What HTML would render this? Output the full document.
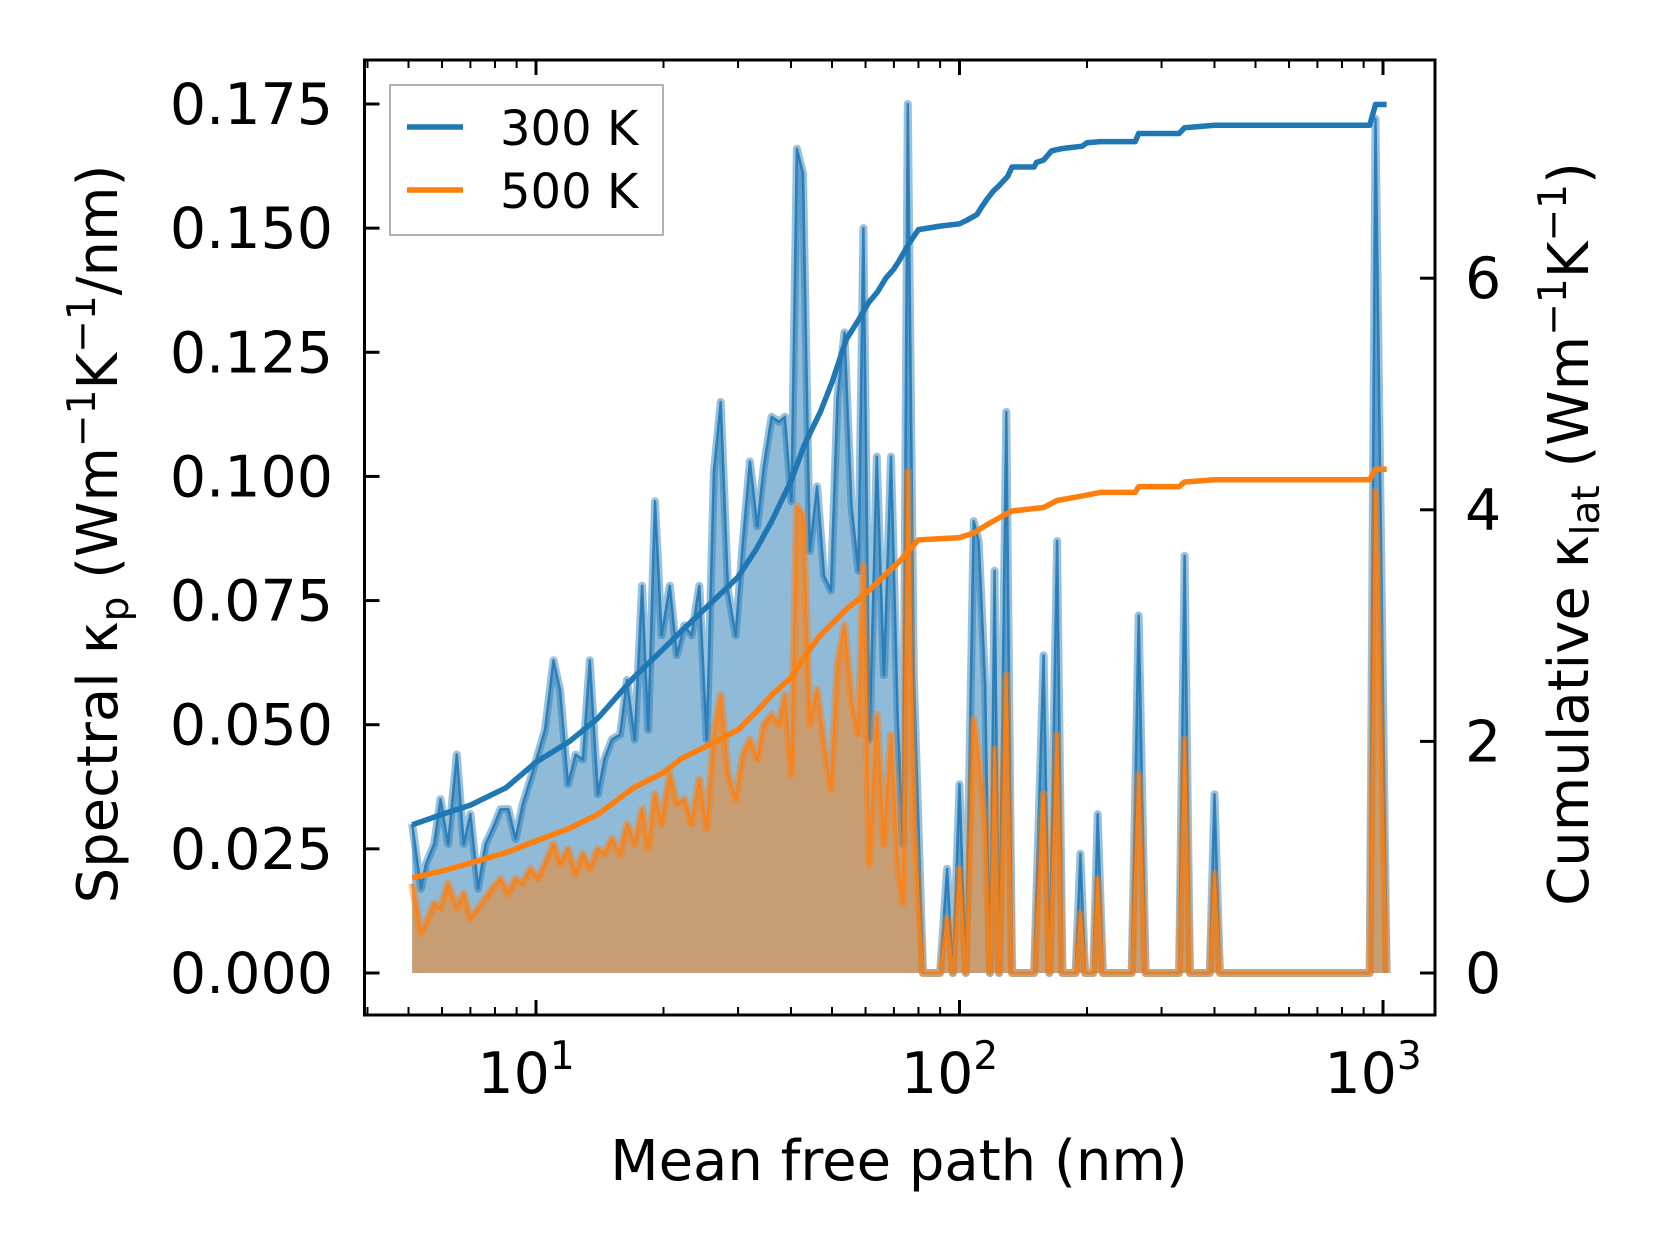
<!DOCTYPE html>
<html><head><meta charset="utf-8"><style>
html,body{margin:0;padding:0;background:#fff}
svg{display:block}
text{font-family:"DejaVu Sans","Liberation Sans",sans-serif;fill:#000}
</style></head><body>
<svg id="chart" width="1660" height="1254" viewBox="0 0 1660 1254" xmlns="http://www.w3.org/2000/svg">
<g id="plot"></g>
<g id="axes"></g>
</svg>
<script>
const mfp = [5.1,5.35,5.5,5.75,5.95,6.2,6.5,6.75,7.0,7.3,7.6,7.9,8.25,8.6,8.95,9.3,9.7,10.1,10.5,11.0,11.4,11.9,12.4,12.9,13.4,14.0,14.5,15.1,15.8,16.4,17.1,17.8,18.4,19.1,19.8,20.7,21.5,22.4,23.3,24.3,25.3,26.3,27.3,28.4,29.6,30.8,32.0,33.3,34.5,36.0,37.5,38.7,40.1,41.3,42.7,44.3,46.1,47.9,49.7,51.5,53.5,55.6,57.7,59.3,61.3,63.8,66.3,68.9,71.5,73.5,75.5,78,82,90,93.5,96.5,100,103.5,108,111,115,118,121,124,129,133,150,158,163,170,175,188,193,198,207,212,218,255,265,275,330,340,350,390,400,412,930,960,1020];
const spec300 = [.030,.017,.022,.026,.035,.026,.044,.026,.032,.017,.026,.029,.033,.033,.027,.034,.039,.044,.049,.063,.057,.038,.044,.043,.063,.036,.043,.047,.048,.059,.047,.078,.049,.095,.068,.078,.064,.070,.068,.078,.047,.101,.115,.077,.068,.087,.103,.090,.102,.112,.111,.112,.095,.166,.161,.085,.098,.080,.077,.116,.129,.094,.081,.150,.047,.104,.060,.104,.051,.026,.175,.060,0,0,.021,0,.038,0,.091,.087,.058,0,.081,0,.113,0,0,.064,0,.087,0,0,.024,0,0,.032,0,0,.072,0,0,.084,0,0,.036,0,0,.172,0];
const spec500 = [.018,.008,.010,.014,.013,.018,.013,.016,.011,.013,.015,.017,.019,.016,.019,.018,.021,.019,.022,.026,.022,.025,.020,.024,.021,.025,.024,.027,.024,.030,.026,.033,.025,.036,.030,.040,.034,.035,.030,.039,.029,.048,.056,.040,.035,.044,.047,.043,.050,.052,.050,.056,.040,.094,.092,.050,.057,.046,.037,.062,.070,.055,.048,.082,.022,.052,.026,.048,.022,.014,.101,.030,0,0,.011,0,.021,0,.051,.043,.030,0,.045,0,.060,0,0,.036,0,.048,0,0,.012,0,0,.019,0,0,.040,0,0,.047,0,0,.020,0,0,.097,0];
const cumX300 = [5.1,6,7,8.5,10,12,14,17,20,22,26,30,33,36,40,43,47,50,54,58,61,64,67,70,72,76,80,90,100,104,110,113,116,120,124,130,133,150,152,158,165,175,195,200,215,260,265,330,340,400,930,960,1020];
const cum300 = [1.28,1.37,1.45,1.6,1.82,2.0,2.2,2.55,2.8,2.95,3.2,3.42,3.65,3.9,4.25,4.56,4.85,5.1,5.47,5.65,5.79,5.88,6.0,6.08,6.15,6.3,6.42,6.45,6.47,6.5,6.55,6.62,6.68,6.75,6.8,6.88,6.96,6.96,7.0,7.02,7.1,7.12,7.14,7.17,7.18,7.18,7.25,7.25,7.3,7.32,7.32,7.5,7.5];
const cumX500 = [5.1,6,7,8.5,10,12,14,17,20,22,26,30,33,36,40,43,47,54,61,66,72,76,80,100,108,116,124,133,158,170,195,215,260,265,330,340,400,930,960,1020];
const cum500 = [0.82,0.88,0.95,1.04,1.14,1.25,1.37,1.6,1.73,1.85,1.98,2.1,2.25,2.4,2.55,2.73,2.92,3.14,3.3,3.42,3.55,3.65,3.74,3.76,3.8,3.87,3.93,3.99,4.02,4.08,4.12,4.15,4.15,4.2,4.2,4.24,4.26,4.26,4.35,4.35];
const leftTicks = [0,0.025,0.05,0.075,0.1,0.125,0.15,0.175];
const leftTickLabels = ["0.000","0.025","0.050","0.075","0.100","0.125","0.150","0.175"];
const rightTicks = [0,2,4,6];
const xMajor = [1,2,3];

const NS="http://www.w3.org/2000/svg";
const L=364.5,R=1435,T=60,B=1015;
function xs(m){return 536+(Math.log10(m)-1)*423.5;}
function yl(v){return 973-v*4965.7;}
function yr(c){return 973-c*115.8;}
function mk(tag,attrs,parent){const e=document.createElementNS(NS,tag);for(const k in attrs)e.setAttribute(k,attrs[k]);parent.appendChild(e);return e;}
const plot=document.getElementById('plot'),axes=document.getElementById('axes'),svg=document.getElementById('chart');

function fillPath(vals){let d='M'+xs(mfp[0])+','+yl(0);mfp.forEach((m,i)=>{d+=' L'+xs(m).toFixed(1)+','+yl(vals[i]).toFixed(1);});d+=' L'+xs(mfp[mfp.length-1])+','+yl(0)+' Z';return d;}
function linePath(xa,va,f){return xa.map((m,i)=>(i?'L':'M')+xs(m).toFixed(1)+','+f(va[i]).toFixed(1)).join(' ');}

const f3=mk('path',{d:fillPath(spec300),fill:'#1f77b4','fill-opacity':0.5},plot);


const l3a=mk('path',{d:linePath(mfp,spec300,yl),fill:'none',stroke:'#1f77b4','stroke-opacity':0.45,'stroke-width':8,'stroke-linejoin':'round'},plot);


const l3=mk('path',{d:linePath(mfp,spec300,yl),fill:'none',stroke:'#1f77b4','stroke-opacity':0.85,'stroke-width':2.5,'stroke-linejoin':'round'},plot);


const f5=mk('path',{d:fillPath(spec500),fill:'#ff7f0e','fill-opacity':0.5},plot);


const l5a=mk('path',{d:linePath(mfp,spec500,yl),fill:'none',stroke:'#ff7f0e','stroke-opacity':0.45,'stroke-width':8,'stroke-linejoin':'round'},plot);


const l5=mk('path',{d:linePath(mfp,spec500,yl),fill:'none',stroke:'#ff7f0e','stroke-opacity':0.85,'stroke-width':2.5,'stroke-linejoin':'round'},plot);


const c3=mk('path',{d:linePath(cumX300,cum300,yr),fill:'none',stroke:'#1f77b4','stroke-width':5.5,'stroke-linejoin':'round'},plot);


const c5=mk('path',{d:linePath(cumX500,cum500,yr),fill:'none',stroke:'#ff7f0e','stroke-width':5.5,'stroke-linejoin':'round'},plot);



const fr=mk('rect',{x:L,y:T,width:R-L,height:B-T,fill:'none',stroke:'#000','stroke-width':3},axes);


leftTicks.forEach((v,i)=>{const y=yl(v);
 const t=mk('line',{x1:L,x2:L+15,y1:y,y2:y,stroke:'#000','stroke-width':3},axes);
 
 
 const tx=mk('text',{x:333,y:y+20,'font-size':57,'text-anchor':'end'},axes);tx.textContent=leftTickLabels[i];
 
 
});
rightTicks.forEach(v=>{const y=yr(v);
 const t=mk('line',{x1:R-15,x2:R,y1:y,y2:y,stroke:'#000','stroke-width':3},axes);
 
 
 const tx=mk('text',{x:1465,y:y+20,'font-size':57},axes);tx.textContent=String(v);
 
 
});
for(let e=0;e<=3;e++){for(let k=1;k<=9;k++){const m=k*Math.pow(10,e);const x=xs(m);if(x<L+2||x>R-2)continue;
 const len=k===1?15:8;
 const tb=mk('line',{x1:x,x2:x,y1:B,y2:B-len,stroke:'#000','stroke-width':k===1?3:2},axes);
 
 
 const tt=mk('line',{x1:x,x2:x,y1:T,y2:T+len,stroke:'#000','stroke-width':k===1?3:2},axes);
 
 
}}
xMajor.forEach(p=>{const x=xs(Math.pow(10,p));
 const tx=mk('text',{x:x-10,y:1093,'font-size':57,'text-anchor':'middle'},axes);
 
 
 tx.appendChild(document.createTextNode('10'));
 const sp=mk('tspan',{dy:-24,'font-size':39},tx);sp.textContent=String(p);
});

const xt=mk('text',{x:899,y:1180,'font-size':56,'text-anchor':'middle'},svg);xt.textContent='Mean free path (nm)';


const yt=mk('text',{transform:'translate(117,534) rotate(-90)','font-size':56,'text-anchor':'middle'},svg);


yt.appendChild(document.createTextNode('Spectral κ'));
mk('tspan',{dy:11,'font-size':39},yt).textContent='p';
mk('tspan',{dy:-11},yt).textContent=' (Wm';
mk('tspan',{dy:-22,'font-size':39},yt).textContent='−1';
mk('tspan',{dy:22},yt).textContent='K';
mk('tspan',{dy:-22,'font-size':39},yt).textContent='−1';
mk('tspan',{dy:22},yt).textContent='/nm)';
const rt=mk('text',{transform:'translate(1588,534) rotate(-90)','font-size':56,'text-anchor':'middle'},svg);


rt.appendChild(document.createTextNode('Cumulative κ'));
mk('tspan',{dy:11,'font-size':39},rt).textContent='lat';
mk('tspan',{dy:-11},rt).textContent=' (Wm';
mk('tspan',{dy:-22,'font-size':39},rt).textContent='−1';
mk('tspan',{dy:22},rt).textContent='K';
mk('tspan',{dy:-22,'font-size':39},rt).textContent='−1';
mk('tspan',{dy:22},rt).textContent=')';

const lg=mk('g',{},svg);


mk('rect',{x:390,y:85,width:273,height:150,fill:'#fff','fill-opacity':0.8,stroke:'#999','stroke-width':1.5},lg);
const e1=mk('g',{},lg);


mk('line',{x1:407,x2:463,y1:127,y2:127,stroke:'#1f77b4','stroke-width':5.5},e1);
mk('text',{x:500,y:145,'font-size':48},e1).textContent='300 K';
const e2=mk('g',{},lg);


mk('line',{x1:407,x2:463,y1:190,y2:190,stroke:'#ff7f0e','stroke-width':5.5},e2);
mk('text',{x:500,y:208,'font-size':48},e2).textContent='500 K';
</script>
</body></html>
